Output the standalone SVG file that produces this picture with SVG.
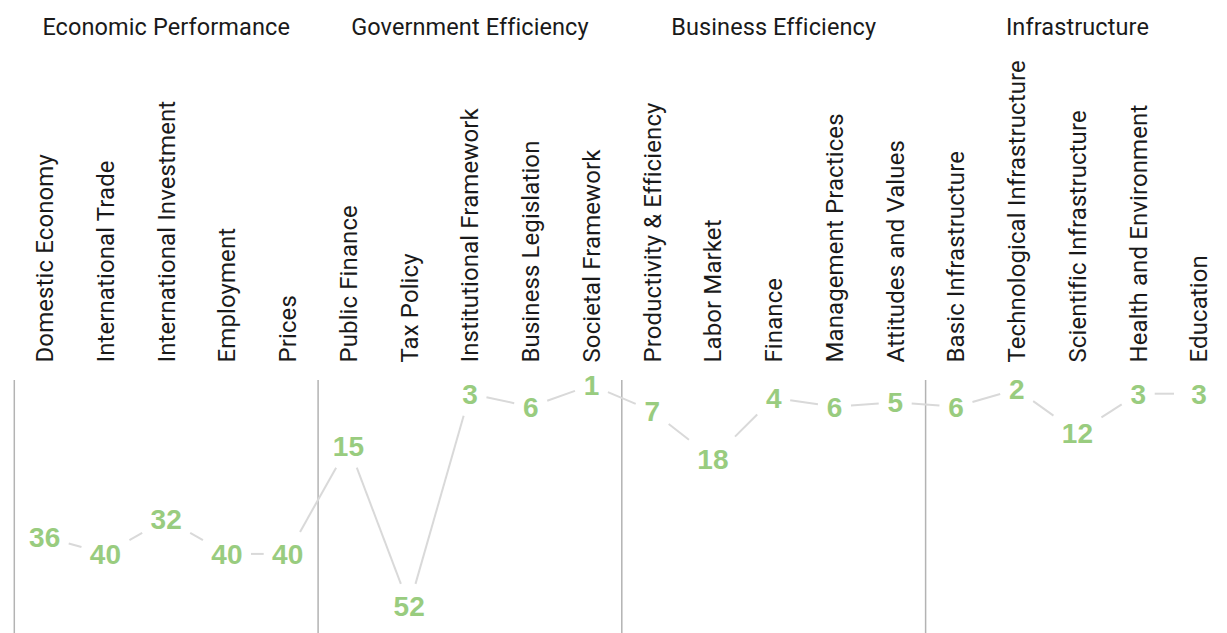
<svg xmlns="http://www.w3.org/2000/svg" width="1227" height="633" viewBox="0 0 1227 633">
<style>
.hdr{font-family:Roboto,"Liberation Sans",sans-serif;font-size:23.5px;fill:#1a1a1a;text-anchor:middle;letter-spacing:0.1px}
.lbl{font-family:Roboto,"Liberation Sans",sans-serif;font-size:24px;fill:#1a1a1a;letter-spacing:0.1px}
.num{font-family:"Liberation Sans",Arial,sans-serif;font-weight:bold;font-size:28px;fill:#99cc7f;text-anchor:middle}
.sep{stroke:#b3b3b3;stroke-width:1.5}
.con{stroke:#d9d9d9;stroke-width:2;fill:none}
</style>
<rect width="1227" height="633" fill="#ffffff"/>
<g id="separators">
<line class="sep" x1="14.3" y1="380" x2="14.3" y2="633"/>
<line class="sep" x1="318.1" y1="380" x2="318.1" y2="633"/>
<line class="sep" x1="621.8" y1="380" x2="621.8" y2="633"/>
<line class="sep" x1="925.6" y1="380" x2="925.6" y2="633"/>
</g>
<g id="headers">
<text class="hdr" x="166.2" y="35">Economic Performance</text>
<text class="hdr" x="469.95" y="35">Government Efficiency</text>
<text class="hdr" x="773.7" y="35">Business Efficiency</text>
<text class="hdr" x="1077.45" y="35">Infrastructure</text>
</g>
<g id="connectors">
<line class="con" x1="68.7" y1="543.44" x2="81.45" y2="547.06"/>
<line class="con" x1="129.45" y1="540.23" x2="142.2" y2="532.97"/>
<line class="con" x1="190.2" y1="532.97" x2="202.95" y2="540.23"/>
<line class="con" x1="250.95" y1="553.9" x2="263.7" y2="553.9"/>
<line class="con" x1="300.05" y1="531.9" x2="336.1" y2="467.65"/>
<line class="con" x1="356.79" y1="467.65" x2="400.86" y2="583.9"/>
<line class="con" x1="415.5" y1="583.9" x2="463.65" y2="415.7"/>
<line class="con" x1="486.45" y1="397.23" x2="514.2" y2="403.17"/>
<line class="con" x1="547.2" y1="400.81" x2="574.95" y2="390.89"/>
<line class="con" x1="607.95" y1="392.06" x2="635.7" y2="403.94"/>
<line class="con" x1="668.7" y1="423.93" x2="688.95" y2="439.8"/>
<line class="con" x1="735.0" y1="436.6" x2="757.2" y2="414.54"/>
<line class="con" x1="790.2" y1="400.36" x2="817.95" y2="404.34"/>
<line class="con" x1="850.95" y1="405.52" x2="878.7" y2="403.53"/>
<line class="con" x1="911.7" y1="403.53" x2="939.45" y2="405.52"/>
<line class="con" x1="972.45" y1="401.99" x2="1000.2" y2="394.06"/>
<line class="con" x1="1033.2" y1="401.13" x2="1053.45" y2="415.57"/>
<line class="con" x1="1101.45" y1="417.29" x2="1121.7" y2="404.29"/>
<line class="con" x1="1154.7" y1="393.7" x2="1174" y2="393.7"/>
</g>
<g id="n0"><text class="lbl" transform="translate(53,362.5) rotate(-90)">Domestic Economy</text><text class="num" x="44.7" y="546.6">36</text></g>
<g id="n1"><text class="lbl" transform="translate(113.75,362.5) rotate(-90)">International Trade</text><text class="num" x="105.45" y="563.9">40</text></g>
<g id="n2"><text class="lbl" transform="translate(174.5,362.5) rotate(-90)">International Investment</text><text class="num" x="166.2" y="529.3">32</text></g>
<g id="n3"><text class="lbl" transform="translate(235.25,362.5) rotate(-90)">Employment</text><text class="num" x="226.95" y="563.9">40</text></g>
<g id="n4"><text class="lbl" transform="translate(296,362.5) rotate(-90)">Prices</text><text class="num" x="287.7" y="563.9">40</text></g>
<g id="n5"><text class="lbl" transform="translate(356.75,362.5) rotate(-90)">Public Finance</text><text class="num" x="348.45" y="455.65">15</text></g>
<g id="n6"><text class="lbl" transform="translate(417.5,362.5) rotate(-90)">Tax Policy</text><text class="num" x="409.2" y="615.9">52</text></g>
<g id="n7"><text class="lbl" transform="translate(478.25,362.5) rotate(-90)">Institutional Framework</text><text class="num" x="469.95" y="403.7">3</text></g>
<g id="n8"><text class="lbl" transform="translate(539,362.5) rotate(-90)">Business Legislation</text><text class="num" x="530.7" y="416.7">6</text></g>
<g id="n9"><text class="lbl" transform="translate(599.75,362.5) rotate(-90)">Societal Framework</text><text class="num" x="591.45" y="395">1</text></g>
<g id="n10"><text class="lbl" transform="translate(660.5,362.5) rotate(-90)">Productivity &amp; Efficiency</text><text class="num" x="652.2" y="421">7</text></g>
<g id="n11"><text class="lbl" transform="translate(721.25,362.5) rotate(-90)">Labor Market</text><text class="num" x="712.95" y="468.6">18</text></g>
<g id="n12"><text class="lbl" transform="translate(782,362.5) rotate(-90)">Finance</text><text class="num" x="773.7" y="408">4</text></g>
<g id="n13"><text class="lbl" transform="translate(842.75,362.5) rotate(-90)">Management Practices</text><text class="num" x="834.45" y="416.7">6</text></g>
<g id="n14"><text class="lbl" transform="translate(903.5,362.5) rotate(-90)">Attitudes and Values</text><text class="num" x="895.2" y="412.35">5</text></g>
<g id="n15"><text class="lbl" transform="translate(964.25,362.5) rotate(-90)">Basic Infrastructure</text><text class="num" x="955.95" y="416.7">6</text></g>
<g id="n16"><text class="lbl" transform="translate(1025,362.5) rotate(-90)">Technological Infrastructure</text><text class="num" x="1016.7" y="399.35">2</text></g>
<g id="n17"><text class="lbl" transform="translate(1085.75,362.5) rotate(-90)">Scientific Infrastructure</text><text class="num" x="1077.45" y="442.7">12</text></g>
<g id="n18"><text class="lbl" transform="translate(1146.5,362.5) rotate(-90)">Health and Environment</text><text class="num" x="1138.2" y="403.7">3</text></g>
<g id="n19"><text class="lbl" transform="translate(1207.25,362.5) rotate(-90)">Education</text><text class="num" x="1198.95" y="403.7">3</text></g>
</svg>
